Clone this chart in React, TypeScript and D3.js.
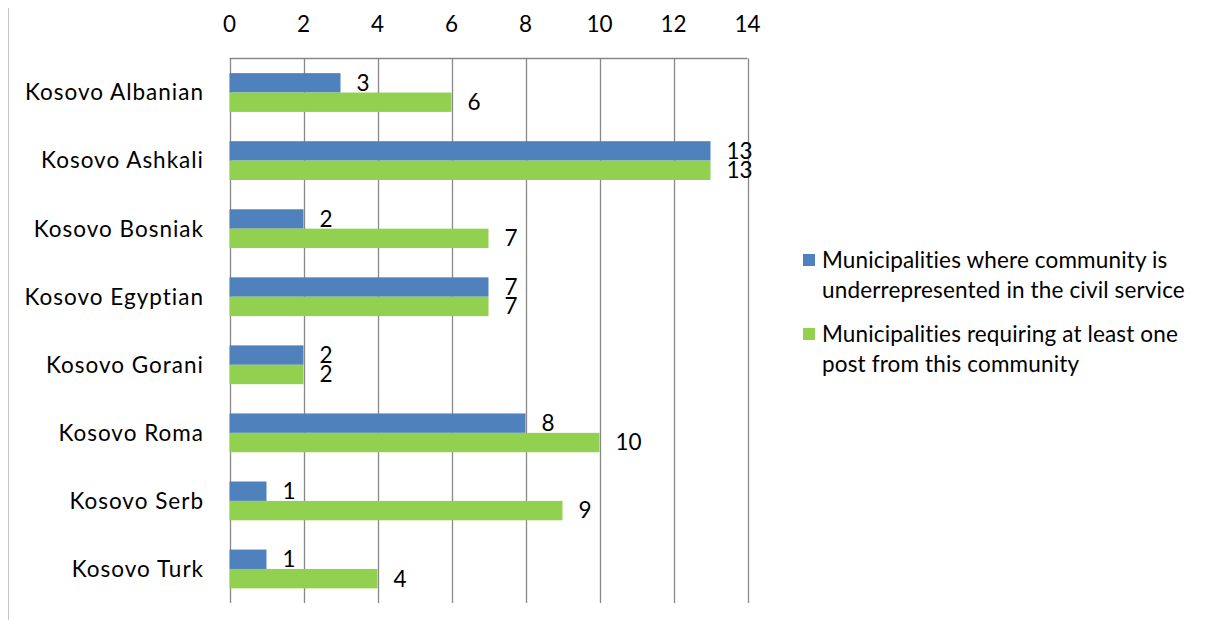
import React from "react";
import * as d3 from "d3";

const categories = [
  "Kosovo Albanian",
  "Kosovo Ashkali",
  "Kosovo Bosniak",
  "Kosovo Egyptian",
  "Kosovo Gorani",
  "Kosovo Roma",
  "Kosovo Serb",
  "Kosovo Turk",
];
const underrepresented = [3, 13, 2, 7, 2, 8, 1, 1];
const requiring = [6, 13, 7, 7, 2, 10, 9, 4];
const ticks = [0, 2, 4, 6, 8, 10, 12, 14];
const seriesNames = [
  ["Municipalities where community is", "underrepresented in the civil service"],
  ["Municipalities requiring at least one", "post from this community"],
];
const colors = ["#4F81BD", "#92D050"];

export default function App() {
  const W = 1209;
  const H = 628;
  const left = 229.5;
  const right = 747.5;
  const top = 58.5;
  const bottom = 603;
  const font = "Lato, Carlito, Calibri, sans-serif";
  const fs = 22.5;

  const x = d3.scaleLinear().domain([0, 14]).range([left, right]);
  const y = d3.scaleBand().domain(categories).range([top, bottom]).paddingInner(0.43).paddingOuter(0.215);
  const sub = d3.scaleBand().domain(["0", "1"]).range([0, y.bandwidth()]);

  const series = [underrepresented, requiring];

  return (
    <div style={{ margin: "-8px" }}>
      <svg width={W} height={H} style={{ display: "block", background: "#fff" }}>
        <line x1={7.5} x2={7.5} y1={0} y2={H} stroke="#8c8c8c" strokeWidth={2} />
        {ticks.map((t) => (
          <g key={t}>
            <line x1={Math.round(x(t)) + 0.5} x2={Math.round(x(t)) + 0.5} y1={top} y2={bottom} stroke="#888" strokeWidth={1.3} />
            <text x={x(t)} y={32} textAnchor="middle" fontFamily={font} fontSize={fs} fill="#000">
              {t}
            </text>
          </g>
        ))}
        <line x1={left} x2={right} y1={top} y2={top} stroke="#888" strokeWidth={1.3} />
        {categories.map((c, i) => (
          <g key={c}>
            <text
              x={204}
              y={(y(c) as number) + y.bandwidth() / 2}
              dy="0.35em"
              textAnchor="end"
              fontFamily={font}
              fontSize={fs}
              letterSpacing={1}
              fill="#000"
            >
              {c}
            </text>
            {series.map((s, k) => {
              const by = (y(c) as number) + (sub(String(k)) as number);
              return (
                <g key={k}>
                  <rect x={x(0)} y={by} width={x(s[i]) - x(0)} height={sub.bandwidth()} fill={colors[k]} />
                  <text
                    x={x(s[i]) + 16}
                    y={by + sub.bandwidth() / 2}
                    dy="0.35em"
                    fontFamily={font}
                    fontSize={fs}
                    fill="#000"
                  >
                    {s[i]}
                  </text>
                </g>
              );
            })}
          </g>
        ))}
        {seriesNames.map((lines, k) => {
          const y0 = 260 + k * 74;
          return (
            <g key={k}>
              <rect x={803} y={y0 - 6} width={12} height={12} fill={colors[k]} />
              {lines.map((ln, j) => (
                <text key={j} x={822} y={y0 + j * 30} dy="0.35em" fontFamily={font} fontSize={fs} letterSpacing={0.15} fill="#000">
                  {ln}
                </text>
              ))}
            </g>
          );
        })}
      </svg>
    </div>
  );
}
